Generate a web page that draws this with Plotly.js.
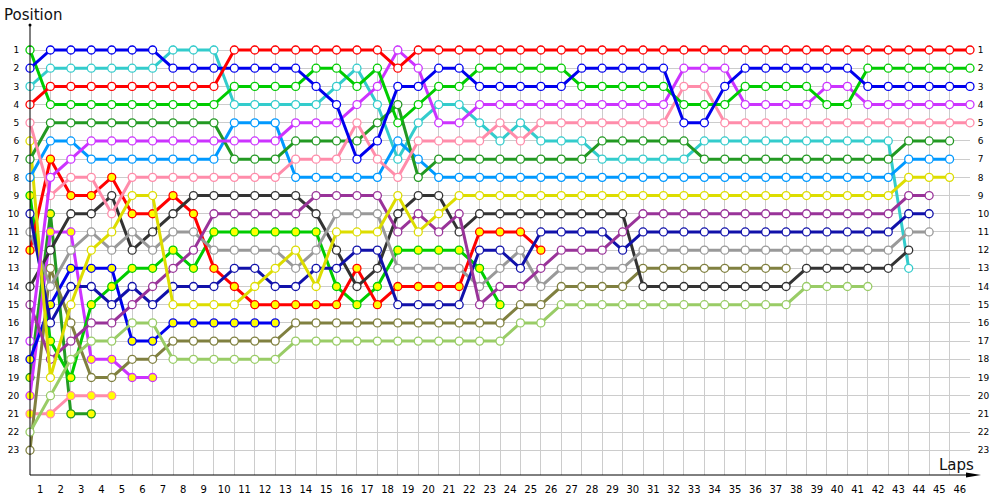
<!DOCTYPE html>
<html><head><meta charset="utf-8">
<script src="https://cdn.plot.ly/plotly-3.0.1.min.js"></script>
<style>html,body{margin:0;padding:0;background:#fff}#chart{width:1000px;height:500px}</style>
</head><body><div id="chart"></div>
<script>
// ---- data ----
const lapLabels = ['1','2','3','4','5','6','7','8','9','10','11','12','13','14','15','16','17','18','19','20','21','22','23','24','25','26','27','28','29','30','31','32','33','34','35','36','37','38','39','40','41','42','43','44','45','46'];
const positionLabels = ['1','2','3','4','5','6','7','8','9','10','11','12','13','14','15','16','17','18','19','20','21','22','23'];

// position at lap 0 (grid), lap 1, lap 2, ...
const posRed      = [4,3,3,3,3,3,3,3,3,3,1,1,1,1,1,1,1,1,2,1,1,1,1,1,1,1,1,1,1,1,1,1,1,1,1,1,1,1,1,1,1,1,1,1,1,1,1];
const posBlue     = [2,1,1,1,1,1,1,2,2,2,2,2,2,2,3,4,7,6,3,3,2,2,3,3,3,3,3,2,2,2,2,2,5,5,3,2,2,2,2,2,2,3,3,3,3,3,3];
const posGreen    = [1,4,4,4,4,4,4,4,4,4,3,3,3,3,2,2,3,2,5,4,3,3,2,2,2,2,2,3,3,3,3,3,4,4,4,3,3,3,3,4,4,2,2,2,2,2,2];
const posViolet   = [17,8,7,6,6,6,6,6,6,6,6,6,6,5,5,5,4,3,1,2,5,5,4,4,4,4,4,4,4,4,4,4,2,2,2,4,4,4,4,3,3,4,4,4,4,4,4];
const posPink     = [5,9,8,8,10,8,8,8,8,8,8,8,8,7,7,7,5,7,8,6,6,6,6,5,6,5,5,5,5,5,5,5,3,3,5,5,5,5,5,5,5,5,5,5,5,5,5];
const posDarkGreen= [7,5,5,5,5,5,5,5,5,5,7,7,7,6,6,6,6,5,4,8,7,7,7,7,7,7,7,7,6,6,6,6,6,7,7,7,7,7,7,7,7,7,7,6,6,6];
const posSkyBlue  = [8,6,6,7,7,7,7,7,7,7,5,5,5,8,8,8,8,8,6,7,8,8,8,8,8,8,8,8,8,8,8,8,8,8,8,8,8,8,8,8,8,8,8,7,7,7];
const posYellow   = [6,19,15,12,11,9,9,15,15,15,15,14,13,12,14,11,11,11,9,11,10,9,9,9,9,9,9,9,9,9,9,9,9,9,9,9,9,9,9,9,9,9,9,8,8,8];
const posPurple   = [15,18,17,16,16,15,14,13,12,10,10,10,10,10,9,9,9,9,11,10,11,10,15,14,14,13,12,12,12,11,10,10,10,10,10,10,10,10,10,10,10,10,10,9,9];
const posNavy     = [10,16,14,14,15,14,15,14,14,14,13,13,14,14,13,13,12,12,15,15,15,15,12,12,13,11,11,11,11,12,11,11,11,11,11,11,11,11,11,11,11,11,11,10,10];
const posGrey     = [11,14,12,11,12,11,12,11,11,12,12,12,12,13,12,10,10,10,13,13,13,13,14,13,12,14,13,13,13,13,12,12,12,12,12,12,12,12,12,12,12,12,12,11,11];
const posCharcoal = [14,12,10,10,9,12,11,10,9,9,9,9,9,9,10,12,14,13,10,9,9,11,10,10,10,10,10,10,10,10,14,14,14,14,14,14,14,14,13,13,13,13,13,12];
const posCyan     = [3,2,2,2,2,2,2,1,1,1,4,4,4,4,4,3,2,4,7,5,4,4,5,6,5,6,6,6,7,7,7,7,7,6,6,6,6,6,6,6,6,6,6,13];
const posLimeGreen= [22,20,18,17,17,16,16,18,18,18,18,18,18,17,17,17,17,17,17,17,17,17,17,17,16,16,15,15,15,15,15,15,15,15,15,15,15,15,14,14,14,14];
const posOlive    = [23,13,16,19,19,18,18,17,17,17,17,17,17,16,16,16,16,16,16,16,16,16,16,16,15,15,14,14,14,14,13,13,13,13,13,13,13,13];
const posRed2     = [12,7,9,9,8,10,10,9,10,13,14,15,15,15,15,15,13,15,14,14,14,14,11,11,11,12];
const posGreen2   = [9,17,19,15,14,13,13,12,13,11,11,11,11,11,11,14,15,14,12,12,12,12,13,15];
const posBlue2    = [18,15,13,13,13,17,17,16,16,16,16,16,16];
const posViolet2  = [20,11,11,18,18,19,19];
const posPink2    = [21,21,20,20,20];
const posDarkGreen2 = [19,10,21,21];

// ---- styles ----
const WHITE = '#ffffff', YEL = '#ffff00';
const drivers = [
  {pos: posDarkGreen2, color:'#229922', fill:YEL},
  {pos: posPink2,      color:'#ff8caa', fill:YEL},
  {pos: posViolet2,    color:'#cc33ff', fill:YEL},
  {pos: posBlue2,      color:'#0000ee', fill:YEL},
  {pos: posGreen2,     color:'#00cc00', fill:YEL},
  {pos: posRed2,       color:'#ff0000', fill:YEL},
  {pos: posOlive,      color:'#808040', fill:WHITE},
  {pos: posLimeGreen,  color:'#99cc66', fill:WHITE},
  {pos: posCyan,       color:'#33cccc', fill:WHITE},
  {pos: posCharcoal,   color:'#333333', fill:WHITE},
  {pos: posGrey,       color:'#999999', fill:WHITE},
  {pos: posNavy,       color:'#1111aa', fill:WHITE},
  {pos: posPurple,     color:'#993399', fill:WHITE},
  {pos: posYellow,     color:'#dddd00', fill:WHITE},
  {pos: posSkyBlue,    color:'#0099ff', fill:WHITE},
  {pos: posDarkGreen,  color:'#229922', fill:WHITE},
  {pos: posPink,       color:'#ff8caa', fill:WHITE},
  {pos: posViolet,     color:'#cc33ff', fill:WHITE},
  {pos: posGreen,      color:'#00cc00', fill:WHITE},
  {pos: posBlue,       color:'#0000ee', fill:WHITE},
  {pos: posRed,        color:'#ff0000', fill:WHITE}
];

const traces = drivers.map(d => ({
  type:'scatter', mode:'lines+markers',
  x: d.pos.map((_, i) => i), y: d.pos,
  line:{color:d.color, width:3},
  marker:{size:8, color:d.fill, line:{color:d.color, width:1.3}},
  cliponaxis:false, showlegend:false, hoverinfo:'x+y'
}));
// dummy trace so the right-hand position axis is drawn
traces.push({type:'scatter', x:[null], y:[null], yaxis:'y2', showlegend:false, hoverinfo:'skip'});

const lapTicks = [];
for (let i = 0; i <= lapLabels.length; i++) lapTicks.push(i);
const labelVals = lapLabels.map((_, i) => i + 0.5);
const posVals = positionLabels.map((_, i) => i + 1);

const FONT = 'DejaVu Sans, Verdana, sans-serif';
const yRange = [24.36, 0.725];
const px = v => (v - 30) / 940;     // pixel -> paper x
const py = v => (475 - v) / 430;    // pixel -> paper y

const layout = {
  width:1000, height:500,
  margin:{l:30, r:30, t:45, b:25, pad:0},
  paper_bgcolor:'#ffffff', plot_bgcolor:'#ffffff',
  showlegend:false,
  xaxis:{
    range:[0, lapLabels.length], tickmode:'array', tickvals:labelVals, ticktext:lapLabels,
    showgrid:false, zeroline:false, showline:false,
    ticks:'outside', ticklen:5, tickcolor:'rgba(0,0,0,0)',
    tickfont:{family:FONT, size:10, color:'#000'},
    minor:{tickmode:'array', tickvals:lapTicks, showgrid:true, gridcolor:'#cccccc', gridwidth:1, ticks:''}
  },
  yaxis:{
    range:yRange, tickmode:'array', tickvals:posVals, ticktext:positionLabels,
    showgrid:true, gridcolor:'#cccccc', gridwidth:1, zeroline:false, showline:false,
    ticks:'outside', ticklen:8, tickcolor:'rgba(0,0,0,0)',
    tickfont:{family:FONT, size:9, color:'#000'}
  },
  yaxis2:{
    overlaying:'y', side:'right', range:yRange, tickmode:'array', tickvals:posVals, ticktext:positionLabels,
    showgrid:false, zeroline:false, showline:false,
    ticks:'outside', ticklen:5, tickcolor:'rgba(0,0,0,0)',
    tickfont:{family:FONT, size:9, color:'#000'}
  },
  shapes:[
    {type:'line', xref:'paper', yref:'paper', x0:0, x1:0, y0:0, y1:py(25), line:{color:'#000', width:1}},
    {type:'circle', xref:'paper', yref:'paper', x0:px(28.5), x1:px(31.5), y0:py(26.5), y1:py(23.5), fillcolor:'#000', line:{color:'#000', width:0}},
    {type:'line', xref:'paper', yref:'paper', x0:0, x1:px(975), y0:0, y1:0, line:{color:'#000', width:1}},
    {type:'path', xref:'paper', yref:'paper',
     path:'M '+px(966)+','+py(472.5)+' L '+px(981)+','+py(475)+' L '+px(966)+','+py(477.5)+' Z',
     fillcolor:'#000', line:{color:'#000', width:0}}
  ],
  annotations:[
    {text:'Position', xref:'paper', yref:'paper', x:px(2), y:py(15), xanchor:'left', yanchor:'middle',
     showarrow:false, font:{family:FONT, size:15, color:'#111'}},
    {text:'Laps', xref:'paper', yref:'paper', x:px(976), y:py(465), xanchor:'right', yanchor:'middle',
     showarrow:false, font:{family:FONT, size:15, color:'#111'}}
  ]
};

Plotly.newPlot('chart', traces, layout, {staticPlot:true, displayModeBar:false});
</script>
</body></html>
